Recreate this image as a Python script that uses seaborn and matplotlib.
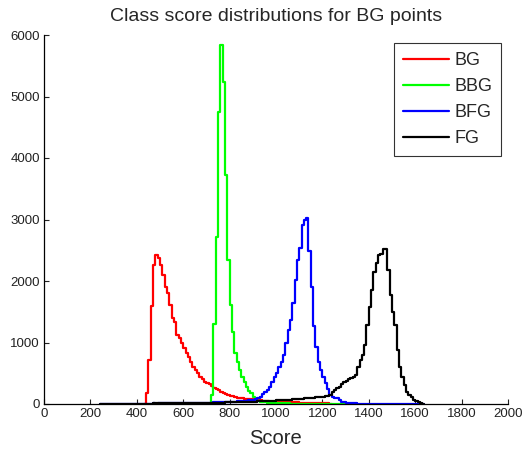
import numpy as np
import pandas as pd
import seaborn as sns
import matplotlib
matplotlib.use("Agg")
import matplotlib.pyplot as plt
from matplotlib.lines import Line2D

# histogram counts, 10-unit bins; each list starts at the given score
bin_width = 10
class_names = ["BG", "BBG", "BFG", "FG"]
class_colors = ["#ff0000", "#00ff00", "#0000ff", "#000000"]

bg_start = 440
bg_counts = [180, 715, 1590, 2260, 2420, 2370, 2260, 2100, 1900, 1800,
             1610, 1400, 1330, 1120, 1070, 990, 910, 830, 760, 690,
             600, 550, 500, 440, 400, 360, 340, 320, 290, 265,
             245, 220, 200, 185, 165, 150, 135, 125, 115, 105,
             98, 92, 88, 85, 80, 80, 85, 75, 65, 60,
             55, 50, 45, 40, 38, 36, 34, 32, 30, 30,
             28, 28, 26, 26, 25, 25, 24, 24, 22, 22,
             20, 20, 20, 18, 18, 16, 15, 14, 12]

bbg_start = 720
bbg_counts = [150, 1300, 2720, 4750, 5840, 5240, 3720, 2340, 1610, 1175,
              830, 690, 550, 445, 365, 280, 215, 175, 120, 80,
              55, 40, 30, 25, 20, 18, 15, 14, 12, 12,
              10, 10, 9, 9, 8, 8, 8, 7, 7, 6,
              6, 6, 5, 5, 5, 5, 4, 4, 4, 4,
              3, 3, 3, 3, 2, 2, 2, 2, 2, 2]

bfg_start = 250
bfg_counts = [3, 4, 3, 5, 4, 4, 5, 5, 4, 6,
              5, 6, 6, 5, 7, 6, 7, 7, 8, 7,
              8, 8, 9, 8, 9, 10, 9, 10, 11, 10,
              11, 12, 12, 13, 13, 14, 15, 15, 16, 17,
              18, 18, 19, 20, 21, 22, 23, 24, 25, 26,
              28, 29, 30, 32, 34, 36, 38, 40, 42, 45,
              48, 52, 56, 60, 65, 70, 80, 90,
              120, 165, 200, 225, 270, 360, 440, 510, 600, 680,
              800, 1000, 1200, 1365, 1640, 2015, 2340, 2530, 2910, 2990,
              3020, 2480, 1910, 1270, 930, 690, 550, 445, 335, 240,
              145, 120, 105, 90, 60, 40, 25, 15, 12, 10,
              9, 9, 8, 8, 7, 7, 6, 6, 5, 5,
              5, 5, 4, 4, 4, 4, 3, 3, 3, 3,
              3, 3, 2, 2, 2, 2, 2, 2, 2, 2]

fg_start = 250
fg_counts = [3, 3, 4, 3, 4, 4, 5, 4, 5, 5,
             5, 6, 5, 6, 6, 7, 6, 7, 7, 8,
             8, 8, 9, 9, 10, 10, 10, 11, 11, 12,
             12, 13, 13, 14, 14, 15, 15, 16, 16, 17,
             17, 18, 18, 19, 19, 20, 20, 21, 21, 22,
             22, 23, 24, 25, 26, 27, 28, 29, 30, 31,
             32, 33, 34, 35, 36, 38, 40, 42, 44, 46,
             48, 50, 52, 54, 56, 58, 60, 62, 65, 68,
             70, 72, 75, 78, 80, 83, 86, 90, 93, 96,
             100, 105, 110, 113, 115, 118, 122, 130, 150, 190,
             220, 255, 280, 320, 365, 380, 400, 420, 445, 470,
             605, 715, 800, 960, 1285, 1580, 1855, 2150, 2300, 2420,
             2440, 2515, 2515, 2180, 1770, 1500, 1285, 880, 605, 445,
             310, 200, 150, 120, 65, 50, 40, 15]

x_ticks = list(range(0, 2001, 200))
y_ticks = list(range(0, 6001, 1000))

starts = [bg_start, bbg_start, bfg_start, fg_start]
counts = [bg_counts, bbg_counts, bfg_counts, fg_counts]

sns.set_style("ticks")
plt.rcParams["font.family"] = ["Liberation Sans", "DejaVu Sans"]

fig = plt.figure(figsize=(5.3, 4.54), dpi=100)
ax = fig.add_axes([44 / 530, 50 / 454, 464 / 530, 369 / 454])

for name, color, start, cnt in zip(class_names, class_colors, starts, counts):
    n = len(cnt)
    df = pd.DataFrame({"score": start + bin_width * np.arange(n) + bin_width / 2,
                       "count": cnt})
    # one empty bin on each side so the outline rises from and returns to 0
    sns.histplot(data=df, x="score", weights="count", binwidth=bin_width,
                 binrange=(start - bin_width, start + bin_width * (n + 1)),
                 element="step", fill=False, color=color, linewidth=1.6, ax=ax)

ax.set_xlim(0, 2000)
ax.set_ylim(0, 6000)
ax.set_xticks(x_ticks)
ax.set_yticks(y_ticks)
ax.tick_params(direction="in", length=3.5, width=0.8, labelsize=9.5,
               colors="#222222", pad=3)
sns.despine(ax=ax)
for s in ["left", "bottom"]:
    ax.spines[s].set_linewidth(0.9)
    ax.spines[s].set_color("black")

ax.set_ylabel("")
ax.set_xlabel("Score", fontsize=14.5, labelpad=6.5)
ax.set_title("Class score distributions for BG points", fontsize=14, pad=10)

handles = [Line2D([], [], color=c, lw=1.6) for c in class_colors]
leg = ax.legend(handles, class_names, loc="upper right",
                bbox_to_anchor=(0.985, 0.978), borderaxespad=0,
                fontsize=13, frameon=True, fancybox=False,
                handlelength=2.5, handletextpad=0.3, labelspacing=0.5,
                borderpad=0.5)
leg.get_frame().set_edgecolor("black")
leg.get_frame().set_linewidth(0.8)

fig.savefig("out.png", dpi=100)
